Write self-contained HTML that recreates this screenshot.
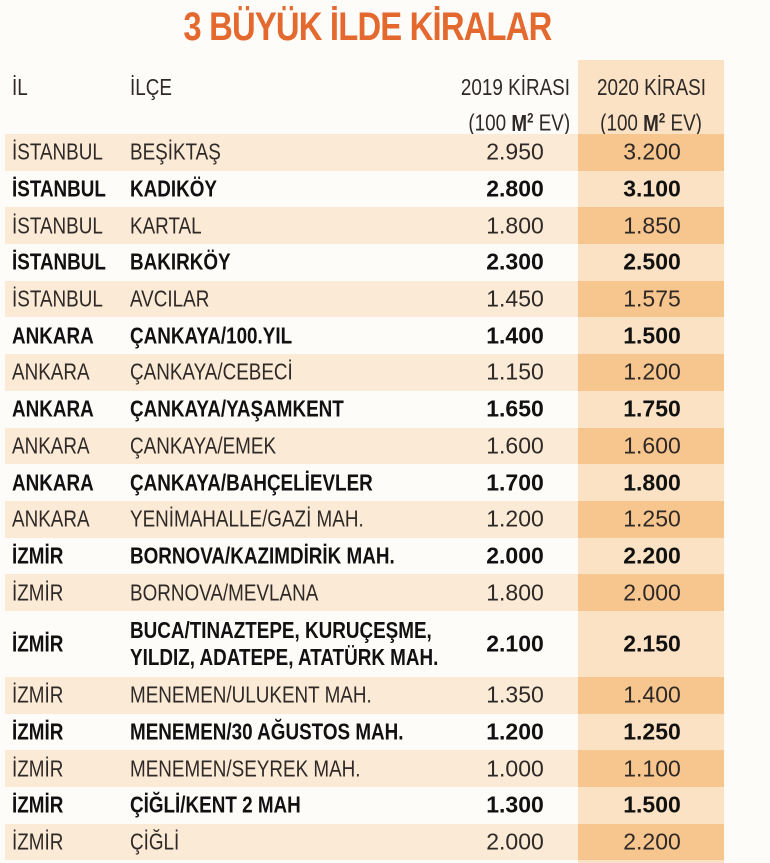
<!DOCTYPE html>
<html><head><meta charset="utf-8"><style>
body{margin:0;width:770px;height:863px;background:#fefcf9;font-family:"Liberation Sans",sans-serif;color:#2e2926;position:relative;overflow:hidden}
.title{position:absolute;left:0;width:735px;top:5px;text-align:center;font-size:40px;font-weight:bold;color:#e3692f;letter-spacing:-1px}
.title span{display:inline-block;transform:scaleX(.82)}
.col20{position:absolute;left:578px;width:146px;top:60px;height:803px;background:#fbe2c4}
.hdr{position:absolute;top:72px;font-size:23px;line-height:30px}
.c{display:inline-block;transform:scaleX(.82);transform-origin:left center;white-space:nowrap}
.cc{display:inline-block;transform:scaleX(.82);transform-origin:center;white-space:nowrap}
.n{display:inline-block;white-space:nowrap}
.cr{display:inline-block;transform:scaleX(.82);transform-origin:right center;white-space:nowrap}
#rows{position:absolute;top:134px;left:5px;width:719px}
.r{position:relative;height:36.7px;font-size:23px}
.r.o{background:#fbead6}
.r.o:after{content:"";position:absolute;left:573px;width:146px;top:0;bottom:0;background:#f7c58e}
.r.b{font-weight:bold;color:#111}
.r>div{position:absolute;top:50%;transform:translateY(-50%);z-index:1}
.a{left:7px}.d{left:125px;line-height:27px}.n1{left:460px;width:100px;text-align:center}.n2{left:597px;width:100px;text-align:center}
</style></head><body>
<div class="title"><span>3 BÜYÜK İLDE KİRALAR</span></div>
<div class="col20"></div>
<div class="hdr" style="left:12px"><span class="c">İL</span></div>
<div class="hdr" style="left:130px"><span class="c">İLÇE</span></div>
<div class="hdr" style="left:400px;width:170px;text-align:right"><span class="cr">2019 KİRASI</span><br><span class="cr">(100 <b>M<sup style="font-size:14px">2</sup></b> EV)</span></div>
<div class="hdr" style="left:578px;width:146px;text-align:center"><span class="cc">2020 KİRASI</span><br><span class="cc">(100 <b>M<sup style="font-size:14px">2</sup></b> EV)</span></div>
<div id="rows">
<div class="r o"><div class="a"><span class="c">İSTANBUL</span></div><div class="d"><span class="c">BEŞİKTAŞ</span></div><div class="n1"><span class="n">2.950</span></div><div class="n2"><span class="n">3.200</span></div></div>
<div class="r b"><div class="a"><span class="c">İSTANBUL</span></div><div class="d"><span class="c">KADIKÖY</span></div><div class="n1"><span class="n">2.800</span></div><div class="n2"><span class="n">3.100</span></div></div>
<div class="r o"><div class="a"><span class="c">İSTANBUL</span></div><div class="d"><span class="c">KARTAL</span></div><div class="n1"><span class="n">1.800</span></div><div class="n2"><span class="n">1.850</span></div></div>
<div class="r b"><div class="a"><span class="c">İSTANBUL</span></div><div class="d"><span class="c">BAKIRKÖY</span></div><div class="n1"><span class="n">2.300</span></div><div class="n2"><span class="n">2.500</span></div></div>
<div class="r o"><div class="a"><span class="c">İSTANBUL</span></div><div class="d"><span class="c">AVCILAR</span></div><div class="n1"><span class="n">1.450</span></div><div class="n2"><span class="n">1.575</span></div></div>
<div class="r b"><div class="a"><span class="c">ANKARA</span></div><div class="d"><span class="c">ÇANKAYA/100.YIL</span></div><div class="n1"><span class="n">1.400</span></div><div class="n2"><span class="n">1.500</span></div></div>
<div class="r o"><div class="a"><span class="c">ANKARA</span></div><div class="d"><span class="c">ÇANKAYA/CEBECİ</span></div><div class="n1"><span class="n">1.150</span></div><div class="n2"><span class="n">1.200</span></div></div>
<div class="r b"><div class="a"><span class="c">ANKARA</span></div><div class="d"><span class="c">ÇANKAYA/YAŞAMKENT</span></div><div class="n1"><span class="n">1.650</span></div><div class="n2"><span class="n">1.750</span></div></div>
<div class="r o"><div class="a"><span class="c">ANKARA</span></div><div class="d"><span class="c">ÇANKAYA/EMEK</span></div><div class="n1"><span class="n">1.600</span></div><div class="n2"><span class="n">1.600</span></div></div>
<div class="r b"><div class="a"><span class="c">ANKARA</span></div><div class="d"><span class="c">ÇANKAYA/BAHÇELİEVLER</span></div><div class="n1"><span class="n">1.700</span></div><div class="n2"><span class="n">1.800</span></div></div>
<div class="r o"><div class="a"><span class="c">ANKARA</span></div><div class="d"><span class="c">YENİMAHALLE/GAZİ MAH.</span></div><div class="n1"><span class="n">1.200</span></div><div class="n2"><span class="n">1.250</span></div></div>
<div class="r b"><div class="a"><span class="c">İZMİR</span></div><div class="d"><span class="c">BORNOVA/KAZIMDİRİK MAH.</span></div><div class="n1"><span class="n">2.000</span></div><div class="n2"><span class="n">2.200</span></div></div>
<div class="r o"><div class="a"><span class="c">İZMİR</span></div><div class="d"><span class="c">BORNOVA/MEVLANA</span></div><div class="n1"><span class="n">1.800</span></div><div class="n2"><span class="n">2.000</span></div></div>
<div class="r b" style="height:66px"><div class="a"><span class="c">İZMİR</span></div><div class="d"><span class="c">BUCA/TINAZTEPE, KURUÇEŞME,</span><br><span class="c">YILDIZ, ADATEPE, ATATÜRK MAH.</span></div><div class="n1"><span class="n">2.100</span></div><div class="n2"><span class="n">2.150</span></div></div>
<div class="r o"><div class="a"><span class="c">İZMİR</span></div><div class="d"><span class="c">MENEMEN/ULUKENT MAH.</span></div><div class="n1"><span class="n">1.350</span></div><div class="n2"><span class="n">1.400</span></div></div>
<div class="r b"><div class="a"><span class="c">İZMİR</span></div><div class="d"><span class="c">MENEMEN/30 AĞUSTOS MAH.</span></div><div class="n1"><span class="n">1.200</span></div><div class="n2"><span class="n">1.250</span></div></div>
<div class="r o"><div class="a"><span class="c">İZMİR</span></div><div class="d"><span class="c">MENEMEN/SEYREK MAH.</span></div><div class="n1"><span class="n">1.000</span></div><div class="n2"><span class="n">1.100</span></div></div>
<div class="r b"><div class="a"><span class="c">İZMİR</span></div><div class="d"><span class="c">ÇİĞLİ/KENT 2 MAH</span></div><div class="n1"><span class="n">1.300</span></div><div class="n2"><span class="n">1.500</span></div></div>
<div class="r o"><div class="a"><span class="c">İZMİR</span></div><div class="d"><span class="c">ÇİĞLİ</span></div><div class="n1"><span class="n">2.000</span></div><div class="n2"><span class="n">2.200</span></div></div>
</div>
</body></html>
